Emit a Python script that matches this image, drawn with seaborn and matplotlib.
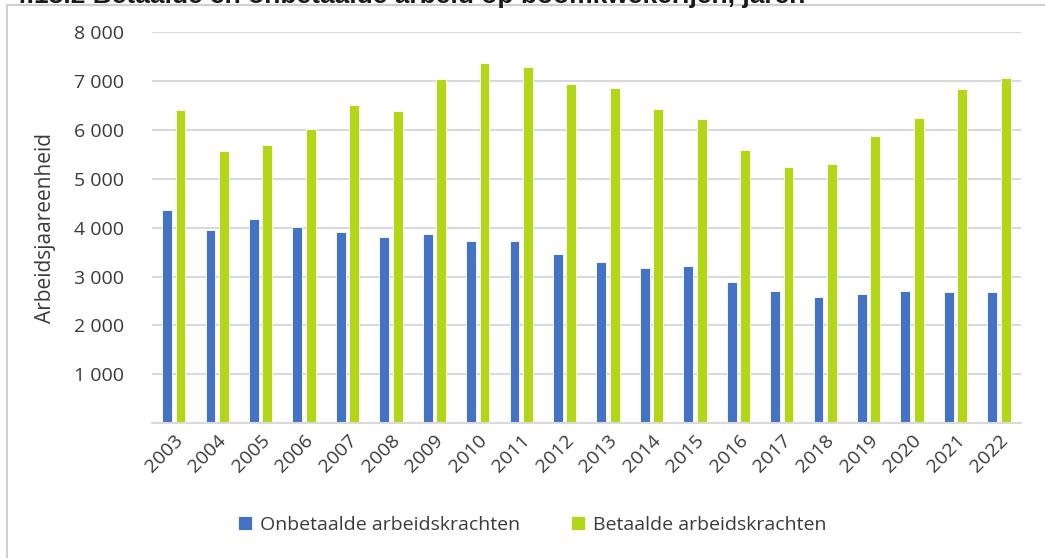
import numpy as np
import pandas as pd
import matplotlib
matplotlib.use("Agg")
import matplotlib.pyplot as plt
import seaborn as sns
from matplotlib.lines import Line2D

years = [str(y) for y in range(2003, 2023)]
onbetaald = [4360, 3950, 4180, 4010, 3910, 3800, 3870, 3720, 3720, 3460,
             3290, 3170, 3220, 2880, 2710, 2590, 2640, 2710, 2690, 2690]
betaald = [6410, 5570, 5680, 6010, 6500, 6380, 7030, 7370, 7280, 6940,
           6860, 6430, 6220, 5590, 5250, 5300, 5880, 6240, 6840, 7060]
series_names = ["Onbetaalde arbeidskrachten", "Betaalde arbeidskrachten"]
colors = ["#4472C4", "#B1D716"]
yticks = [1000, 2000, 3000, 4000, 5000, 6000, 7000, 8000]
ylabel = "Arbeidsjaareenheid"
title = "4.13.2 Betaalde en onbetaalde arbeid op boomkwekerijen, jaren"

df = pd.DataFrame({
    "jaar": years * 2,
    "waarde": onbetaald + betaald,
    "reeks": [series_names[0]] * len(years) + [series_names[1]] * len(years),
})

sns.set_theme(style="white")
plt.rcParams["font.family"] = ["Open Sans", "DejaVu Sans"]
textc = "#3A3A3A"

fig = plt.figure(figsize=(10.45, 5.58), dpi=100)
ax = fig.add_axes([152 / 1045, 1 - 423.3 / 558, (1020.7 - 152) / 1045, (423.3 - 32) / 558])

sns.barplot(data=df, x="jaar", y="waarde", hue="reeks", palette=colors,
            saturation=1, width=0.62, gap=0.27, edgecolor="white", linewidth=0.6,
            ax=ax, legend=True)

ax.set_ylim(0, 8000)
ax.set_xlim(-0.5, len(years) - 0.5)
ax.set_yticks(yticks)
ax.set_yticklabels([f"{v:,}".replace(",", " ") for v in yticks])
ax.yaxis.grid(True, color="#D9D9D9", linewidth=1.5)
ax.set_axisbelow(True)
for s in ["top", "right", "left"]:
    ax.spines[s].set_visible(False)
ax.spines["bottom"].set_color("#D9D9D9")
ax.spines["bottom"].set_linewidth(1.5)
ax.tick_params(axis="y", length=0, pad=20, labelsize=14, labelcolor=textc)
ax.tick_params(axis="x", length=0, pad=6, labelsize=14, labelcolor=textc)
for lab in ax.get_xticklabels():
    lab.set_rotation(45)
    lab.set_ha("right")
    lab.set_va("top")
    lab.set_rotation_mode("anchor")
ax.set_xlabel("")
ax.set_ylabel(ylabel, fontsize=15, color=textc, labelpad=13)

handles, labels = ax.get_legend_handles_labels()
ax.legend(handles, labels, loc="center", bbox_to_anchor=(532 / 1045, 1 - 525 / 558),
          bbox_transform=fig.transFigure, ncol=2, frameon=False, fontsize=14,
          handlelength=0.75, handleheight=0.75, handletextpad=0.4, columnspacing=2.6,
          labelcolor=textc)

# outer frame
fr = "#D0D0D0"
fig.add_artist(Line2D([7 / 1045, 7 / 1045], [0, 1 - 5 / 558], transform=fig.transFigure, color=fr, lw=1.5))
fig.add_artist(Line2D([7 / 1045, 1], [1 - 5 / 558, 1 - 5 / 558], transform=fig.transFigure, color=fr, lw=1.5))

# partially visible title at top (cut off by the top edge, as in the source)
fig.text(12 / 1045, 1 - 3 / 558, title, fontsize=19, fontweight="bold", color="#1A1A1A",
         ha="left", va="baseline", family=["Liberation Sans", "DejaVu Sans"])

fig.savefig("out.png", dpi=100)
